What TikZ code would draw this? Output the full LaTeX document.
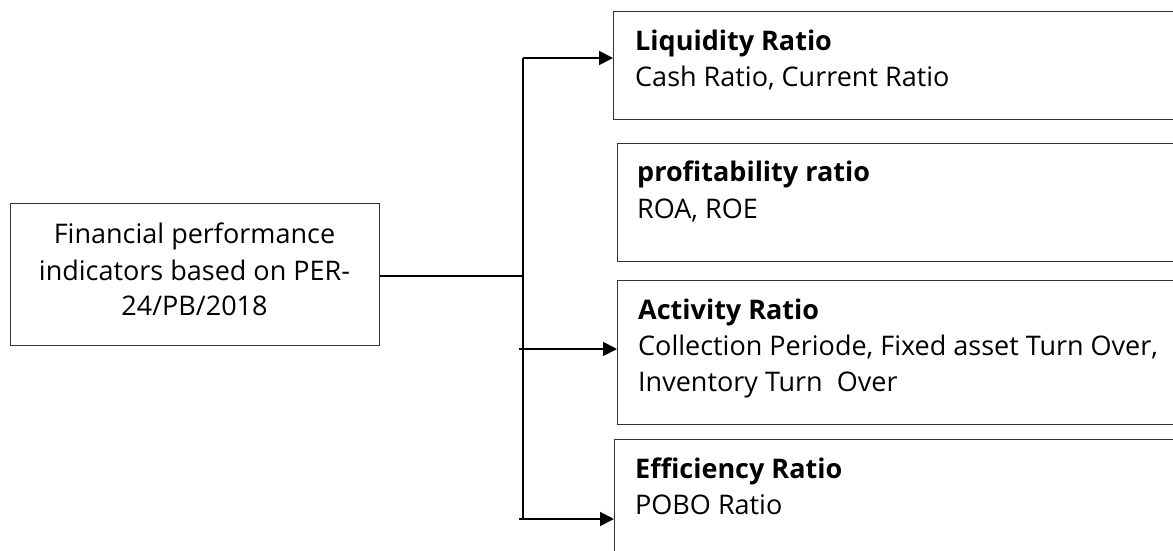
\documentclass[tikz,border=0pt]{standalone}
\usepackage{fontspec}
\setmainfont{Open Sans}
\usetikzlibrary{arrows.meta}
\begin{document}
\begin{tikzpicture}[x=1pt,y=-1pt,
  box/.style={draw=black!80,line width=1.2pt},
  conn/.style={line width=1.8pt},
  arr/.style={conn,-{Triangle[length=14pt,width=14pt]}},
  txt/.style={anchor=base west,inner sep=0pt,font=\fontsize{27}{32}\selectfont},
  ctxt/.style={anchor=base,inner sep=0pt,font=\fontsize{27}{32}\selectfont},
  ttl/.style={txt,font=\fontsize{27}{32}\selectfont\bfseries}]
\useasboundingbox (0,0) rectangle (1173,551);
\clip (0,0) rectangle (1173,551);
% left box
\node[box,anchor=north west,minimum width=369pt,minimum height=142pt,inner sep=0pt] (src) at (10,203) {};
\node[ctxt] (s1) at (194.5,243) {Financial performance};
\node[ctxt] (s2) at (194.5,280) {indicators based on PER-};
\node[ctxt] (s3) at (194.5,315) {24/PB/2018};
% right boxes
\node[box,anchor=north west,minimum width=600pt,minimum height=108pt,inner sep=0pt] (liq) at (613,11) {};
\node[ttl] (liqT) at (635,51) {Liquidity Ratio};
\node[txt] (liqB) at (635,86) {Cash Ratio, Current Ratio};
\node[box,anchor=north west,minimum width=600pt,minimum height=118pt,inner sep=0pt] (pro) at (617,143) {};
\node[ttl] (proT) at (637,181) {profitability ratio};
\node[txt] (proB) at (637,218) {ROA, ROE};
\node[box,anchor=north west,minimum width=600pt,minimum height=144pt,inner sep=0pt] (act) at (617,280) {};
\node[ttl] (actT) at (638,319) {Activity Ratio};
\node[txt] (actB) at (638,355) {Collection Periode, Fixed asset Turn Over,};
\node[txt] (actC) at (638,391) {Inventory Turn\ \ Over};
\node[box,anchor=north west,minimum width=600pt,minimum height=200pt,inner sep=0pt] (eff) at (614,439) {};
\node[ttl] (effT) at (635,478) {Efficiency Ratio};
\node[txt] (effB) at (635,514) {POBO Ratio};
% connectors
\coordinate (tTop) at (523,58);
\coordinate (tMid) at (523,276);
\coordinate (tBot) at (523,519);
\coordinate (aStart) at (519,349);
\coordinate (eStart) at (519,519);
\draw[conn] (src.east |- tMid) -- (tMid);
\draw[conn] (tTop) -- (tBot);
\draw[arr] (tTop) -- (liq.west |- tTop);
\draw[arr] (aStart) -- (act.west |- aStart);
\draw[arr] (eStart) -- (eff.west |- eStart);
\end{tikzpicture}
\end{document}
